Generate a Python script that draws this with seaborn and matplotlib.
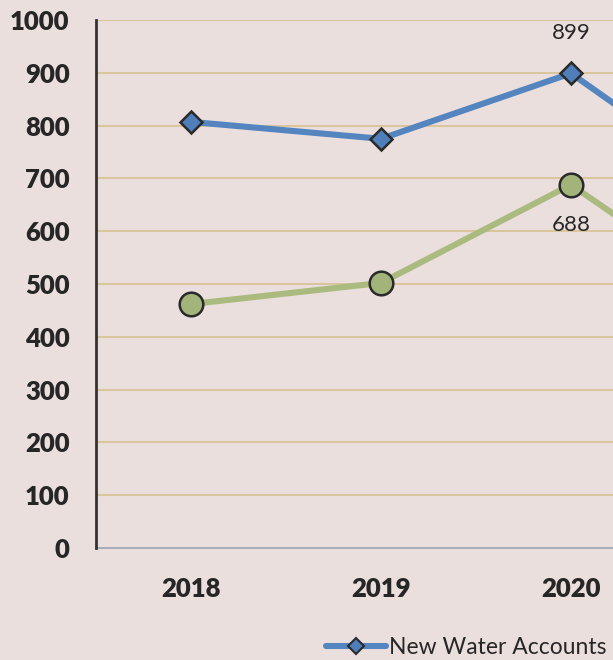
import matplotlib
matplotlib.use("Agg")
import matplotlib.pyplot as plt
import seaborn as sns
import pandas as pd

# Annual new account counts
years = ["2018", "2019", "2020", "2021"]
water_accounts = [807, 775, 899, 645]
sewer_accounts = [462, 502, 688, 440]
series_names = ["New Water Accounts", "New Sewer Accounts"]
y_ticks = [0, 100, 200, 300, 400, 500, 600, 700, 800, 900, 1000]
labelled_year = "2020"

df = pd.DataFrame({
    "year": years * 2,
    "accounts": water_accounts + sewer_accounts,
    "series": [series_names[0]] * len(years) + [series_names[1]] * len(years),
})

sns.set_theme(style="white")
plt.rcParams["font.family"] = ["Lato", "DejaVu Sans"]

bg = "#ebdfde"
blue_line = "#5485bf"
blue_fill = "#4f7fba"
green_line = "#abbb80"
green_fill = "#a2b47a"
grid_col = "#d9c69c"
text_col = "#262626"

fig = plt.figure(figsize=(6.13, 6.60), dpi=100, facecolor=bg)
# the plot area runs past the right edge of the canvas
ax = fig.add_axes([96 / 613, 112 / 660, 760 / 613, 528 / 660])
ax.set_facecolor(bg)

sns.lineplot(
    data=df, x="year", y="accounts", hue="series", style="series",
    palette=[blue_line, green_line], markers=["D", "o"], dashes=False,
    linewidth=4.4, sort=False, ax=ax, legend=False, zorder=3,
)
# marker styling per series
for line, fill, ms in zip(ax.lines, [blue_fill, green_fill], [11, 17]):
    line.set_markerfacecolor(fill)
    line.set_markeredgecolor("#2a2a2a")
    line.set_markeredgewidth(1.8)
    line.set_markersize(ms)
    line.set_solid_joinstyle("round")

ax.set_xlim(-0.5, len(years) - 0.5)
ax.set_ylim(0, 1000)
ax.set_yticks(y_ticks)
ax.set_yticklabels([str(v) for v in y_ticks], fontsize=18.5, fontweight="heavy", color=text_col)
ax.set_xticks(range(len(years)))
ax.set_xticklabels(years, fontsize=18.5, fontweight="heavy", color=text_col)
ax.tick_params(axis="both", length=0)
ax.tick_params(axis="y", pad=19)
ax.tick_params(axis="x", pad=21)
ax.set_xlabel("")
ax.set_ylabel("")

for v in y_ticks[1:]:
    ax.axhline(v, color=grid_col, linewidth=1.5, zorder=1)

for side in ["top", "right"]:
    ax.spines[side].set_visible(False)
ax.spines["left"].set_color("#333333")
ax.spines["left"].set_linewidth(2.0)
ax.spines["left"].set_zorder(4)
ax.spines["bottom"].set_color("#a7adbb")
ax.spines["bottom"].set_linewidth(1.5)

# value labels for the highlighted year
i = years.index(labelled_year)
ax.annotate(str(water_accounts[i]), (i, water_accounts[i]), xytext=(0, 29),
            textcoords="offset points", ha="center", va="center",
            fontsize=16, color=text_col)
ax.annotate(str(sewer_accounts[i]), (i, sewer_accounts[i]), xytext=(0, -29),
            textcoords="offset points", ha="center", va="center",
            fontsize=16, color=text_col)

handles = [
    plt.Line2D([], [], color=blue_line, lw=4.4, marker="D", ms=8,
               markerfacecolor=blue_fill, markeredgecolor="#2a2a2a", markeredgewidth=1.5),
    plt.Line2D([], [], color=green_line, lw=4.4, marker="o", ms=11,
               markerfacecolor=green_fill, markeredgecolor="#2a2a2a", markeredgewidth=1.5),
]
fig.legend(handles, series_names, loc="center left", bbox_to_anchor=(326 / 613, 12 / 660),
           ncol=2, frameon=False, fontsize=16.5, handlelength=2.6, handletextpad=0.15,
           borderpad=0, borderaxespad=0, columnspacing=2.0, labelcolor=text_col)

fig.savefig("out.png", dpi=100, facecolor=bg)
